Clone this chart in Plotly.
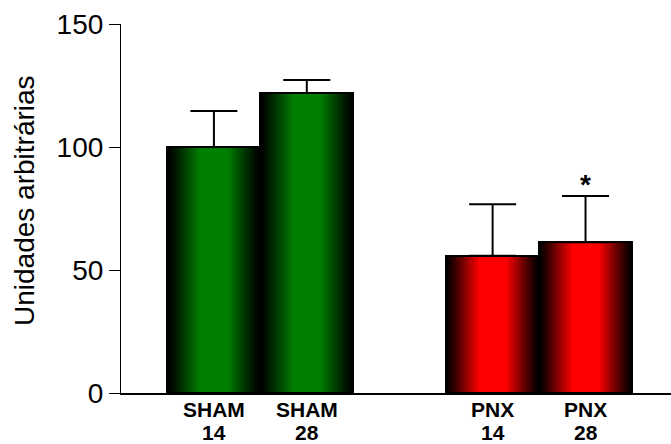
import plotly.graph_objects as go

# ---- data ----
groups = ["SHAM", "PNX"]
days = ["14", "28"]
means = [100.0, 122.0, 55.8, 61.3]
sem = [14.6, 5.2, 20.9, 18.8]
significant = [False, False, False, True]
y_ticks = [0, 50, 100, 150]
y_title = "Unidades arbitrárias"

# ---- styling ----
FONT = "Liberation Sans, Arial, sans-serif"
base_colors = {"SHAM": (0, 128, 0), "PNX": (255, 0, 0)}
N_LAYERS = 28

label_lines, xpos, group_of = [], [], []
for gi, g in enumerate(groups):
    for di, d in enumerate(days):
        label_lines.append((g, d))
        xpos.append(gi * 3 + di)
        group_of.append(g)

def shade(rgb, k):
    return "rgb({},{},{})".format(*[int(round(c * k)) for c in rgb])

fig = go.Figure()
# gradient layers (concentric bars, dark at edges, bright in centre)
for i in range(N_LAYERS):
    f = 1 - i / N_LAYERS
    k = max(0.0, min(1.0, (1 - f) / 0.7)) ** 1.1
    fig.add_trace(go.Bar(
        x=xpos, y=means, width=[f] * len(xpos),
        marker=dict(color=[shade(base_colors[g], k) for g in group_of],
                    line=dict(width=0)),
        hoverinfo="skip", showlegend=False))

# outline + error bars
fig.add_trace(go.Bar(
    x=xpos, y=means, width=[1] * len(xpos),
    marker=dict(color="rgba(0,0,0,0)", line=dict(color="black", width=2)),
    error_y=dict(type="data", array=sem, arrayminus=[0] * len(sem),
                 symmetric=False, color="black", thickness=2, width=23.5),
    hoverinfo="skip", showlegend=False))

for x, m, s, sig in zip(xpos, means, sem, significant):
    if sig:
        fig.add_annotation(x=x, y=m + s, text="<b>*</b>", showarrow=False,
                           yanchor="bottom", yshift=-6,
                           font=dict(family=FONT, size=28, color="black"))

# category labels under the bars (two lines each)
for x, (l1, l2) in zip(xpos, label_lines):
    for txt, shift in ((l1, -16.5), (l2, -39.5)):
        fig.add_annotation(x=x, xref="x", y=0, yref="paper", text=f"<b>{txt}</b>",
                           showarrow=False, yanchor="middle", yshift=shift,
                           font=dict(family=FONT, size=21, color="black"))

# y-axis title
fig.add_annotation(x=-0.1764, xref="paper", y=0.523, yref="paper", text=y_title,
                   textangle=-90, showarrow=False, xanchor="center", yanchor="middle",
                   font=dict(family=FONT, size=28, color="black"))

fig.update_layout(
    width=671, height=444,
    margin=dict(l=121, r=0, t=24, b=51, autoexpand=False),
    barmode="overlay", bargap=0,
    paper_bgcolor="white", plot_bgcolor="white",
    font=dict(family=FONT, color="black"),
)
fig.update_xaxes(
    range=[-1, 4.92], tickvals=xpos, showticklabels=False,
    showline=True, linecolor="black", linewidth=2, automargin=False,
    ticks="", showgrid=False, zeroline=False,
)
fig.update_yaxes(
    range=[0, 150], tickvals=y_ticks, automargin=False,
    tickfont=dict(family=FONT, size=28, color="black"),
    ticks="outside", ticklen=11, tickwidth=1.2, tickcolor="black",
    showline=True, linecolor="black", linewidth=1.2,
    showgrid=False, zeroline=False,
)

fig.write_html(
    "out.html",
    config={"displayModeBar": False},
    post_script="document.body.style.margin='0';document.body.style.overflow='hidden';",
)
